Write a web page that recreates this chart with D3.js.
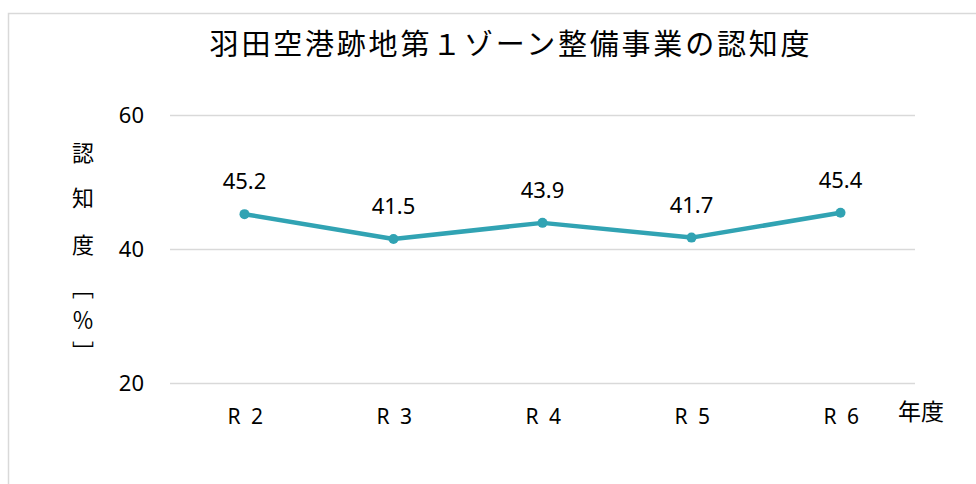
<!DOCTYPE html>
<html>
<head>
	<meta charset="utf-8">
	<title></title>
	<script src="https://cdn.jsdelivr.net/npm/d3@7/dist/d3.min.js"></script>
	<style type="text/css">
		body{
			margin: 0;
			padding: 0;
			background: #fff;
		}
		svg{
			display: block;
		}
		text{
			font-family: "Noto Sans", "Noto Sans CJK JP", sans-serif;
			fill: #000;
		}
	</style>
</head>
<body>
	<svg id="svg" width="976" height="484"></svg>
	<script type="text/javascript">
		// data
		let years = ['R 2','R 3','R 4','R 5','R 6'];
		let values = [45.2,41.5,43.9,41.7,45.4];
		let yTicks = [20,40,60];
		let titleText = '羽田空港跡地第１ゾーン整備事業の認知度';
		let yTitleChars = ['認','知','度','﹇','％','﹈'];
		let xTitleText = '年度';

		let svg = d3.select('#svg');
		let plotLeft = 170, plotRight = 915, plotTop = 115, plotBottom = 383;
		let teal = '#31a3b3';

		// outer frame
		svg.append('rect')
			.attr('x',8.5)
			.attr('y',13.5)
			.attr('width',1000)
			.attr('height',1000)
			.style('fill','none')
			.style('stroke','#d9d9d9')
			.style('stroke-width',1.5);

		let x = d3.scalePoint().domain(years).range([plotLeft,plotRight]).padding(0.5);
		let y = d3.scaleLinear().domain([20,60]).range([plotBottom,plotTop]);

		// title
		svg.append('text')
			.attr('x',511)
			.attr('y',47)
			.attr('text-anchor','middle')
			.attr('dominant-baseline','middle')
			.style('font-family','"Noto Sans CJK JP", sans-serif')
			.style('font-size','29px')
			.style('letter-spacing','2.8px')
			.text(titleText);

		// grid lines
		let yAxis = d3.axisLeft(y).tickValues(yTicks).tickSize(-(plotRight-plotLeft)).tickPadding(26);
		let gy = svg.append('g')
			.attr('transform','translate('+plotLeft+',0)')
			.call(yAxis);
		gy.select('.domain').remove();
		gy.selectAll('.tick line').style('stroke','#d9d9d9').style('stroke-width',1.5);
		gy.selectAll('.tick text')
			.style('font-family','"Noto Sans", sans-serif')
			.style('font-size','22px')
			.style('fill','#000');

		// x axis labels
		let xAxis = d3.axisBottom(x).tickSize(0).tickPadding(26);
		let gx = svg.append('g')
			.attr('transform','translate(0,'+plotBottom+')')
			.call(xAxis);
		gx.select('.domain').remove();
		gx.selectAll('.tick text')
			.attr('dx',1.5)
			.style('font-family','"Noto Sans", sans-serif')
			.style('font-size','21px')
			.style('letter-spacing','2.5px')
			.style('fill','#000');

		// x title
		svg.append('text')
			.attr('x',921)
			.attr('y',414)
			.attr('text-anchor','middle')
			.attr('dominant-baseline','middle')
			.style('font-family','"Noto Sans CJK JP", sans-serif')
			.style('font-size','23px')
			.text(xTitleText);

		// y title (vertical)
		let yTitleY = [155,200,247,290,322,354];
		yTitleChars.forEach(function(c,i){
			svg.append('text')
				.attr('x',83)
				.attr('y',yTitleY[i])
				.attr('text-anchor','middle')
				.attr('dominant-baseline','middle')
				.style('font-family','"Noto Sans CJK JP", sans-serif')
				.style('font-size','22px')
				.text(c);
		});

		// line
		let line = d3.line()
			.x(function(d,i){ return x(years[i]); })
			.y(function(d){ return y(d); });

		svg.append('path')
			.datum(values)
			.attr('d',line)
			.style('fill','none')
			.style('stroke',teal)
			.style('stroke-width',4.5)
			.style('stroke-linejoin','round');

		svg.selectAll('.dot')
			.data(values)
			.enter()
			.append('circle')
			.attr('class','dot')
			.attr('cx',function(d,i){ return x(years[i]); })
			.attr('cy',function(d){ return y(d); })
			.attr('r',5)
			.style('fill',teal);

		svg.selectAll('.lbl')
			.data(values)
			.enter()
			.append('text')
			.attr('class','lbl')
			.attr('x',function(d,i){ return x(years[i]); })
			.attr('y',function(d){ return y(d)-31; })
			.attr('text-anchor','middle')
			.attr('dominant-baseline','middle')
			.style('font-family','"Noto Sans", sans-serif')
			.style('font-size','22px')
			.text(function(d){ return d.toFixed(1); });
	</script>
</body>
</html>
